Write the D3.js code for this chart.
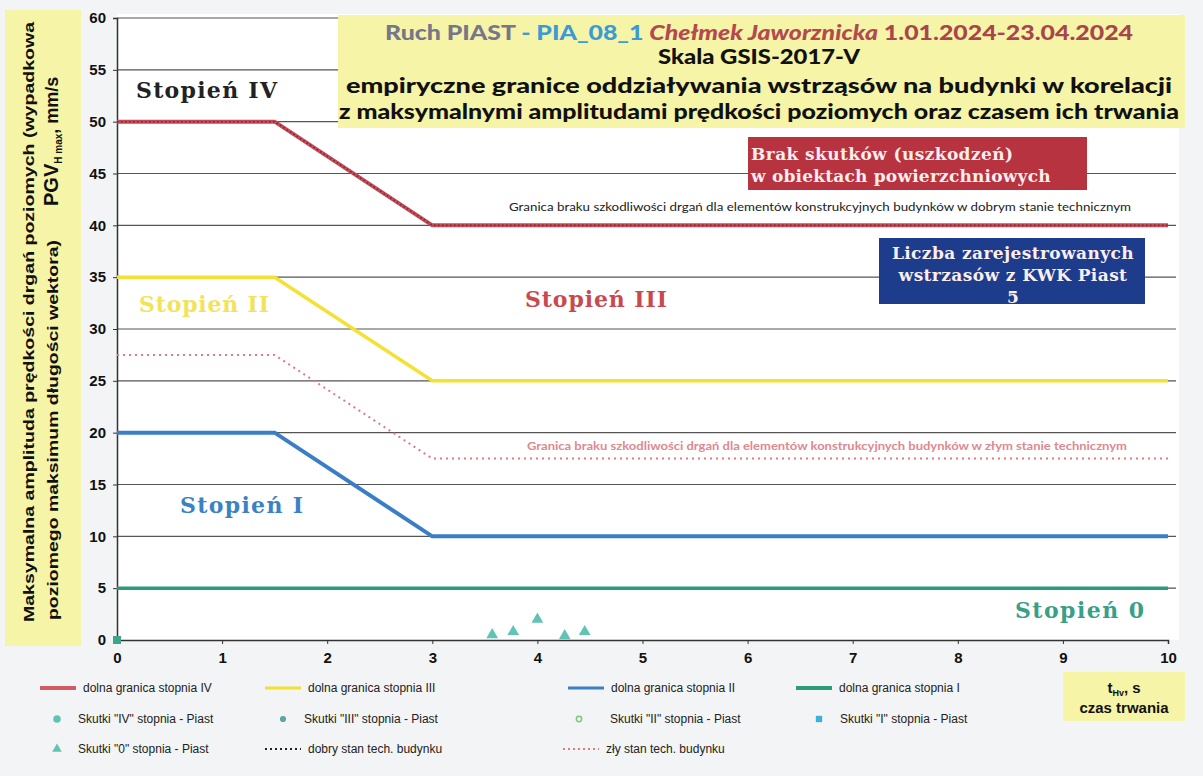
<!DOCTYPE html>
<html>
<head>
<meta charset="utf-8">
<script src="https://cdn.jsdelivr.net/npm/d3@7"></script>
<style>
  body { margin: 0; background: #f2f4f5; }
  svg { display: block; }
  .tick text { font-family: "Liberation Sans", Arial, sans-serif; font-weight: bold; font-size: 15px; fill: #111; }
  .leg { font-family: "Liberation Sans Narrow", "Liberation Sans", Arial, sans-serif; font-size: 12px; fill: #222; }
  .stage { font-family: "DejaVu Serif", serif; font-weight: bold; font-size: 22px; letter-spacing: 1px; }
  .ttl { font-family: Lato, "Open Sans", sans-serif; font-weight: 900; font-size: 21px; }
  .box { font-family: "DejaVu Serif", serif; font-weight: bold; font-size: 17px; fill: #fbeeee; letter-spacing: 0.4px; }
</style>
</head>
<body>
<svg id="canvas" width="1203" height="776"></svg>
<script>
// --- data ---
const durations = [0, 1.5, 3, 10];          // t, s (knots of the limit lines)
const limitIV   = [50, 50, 40, 40];
const limitIII  = [35, 35, 25, 25];
const limitII   = [20, 20, 10, 10];
const limitI    = [5, 5, 5, 5];
const goodState = [50, 50, 40, 40];
const poorState = [27.5, 27.5, 17.5, 17.5];

const zeroT = [3.57, 3.77, 4.0, 4.26, 4.45];  // "0" stage events
const zeroV = [0.5, 0.8, 2.0, 0.4, 0.8];
const firstT = [0];
const firstV = [0];

const xTicks = [0, 1, 2, 3, 4, 5, 6, 7, 8, 9, 10];
const yTicks = [0, 5, 10, 15, 20, 25, 30, 35, 40, 45, 50, 55, 60];

const svg = d3.select("#canvas");
const x = d3.scaleLinear().domain([0, 10]).range([117, 1168]);
const y = d3.scaleLinear().domain([0, 60]).range([640, 18]);

// plot background
svg.append("rect").attr("x", 117).attr("y", 14).attr("width", 1062).attr("height", 626).attr("fill", "#fff");

// grid
svg.append("g").selectAll("line").data(yTicks.filter(d => d > 0)).join("line")
  .attr("x1", x(0)).attr("x2", 1176)
  .attr("y1", d => y(d)).attr("y2", d => y(d))
  .attr("stroke", "#555").attr("stroke-width", 1.2);

// axes
const yAxis = svg.append("g").attr("transform", `translate(${x(0)},0)`)
  .call(d3.axisLeft(y).tickValues(yTicks).tickSize(4).tickPadding(7));
const xAxis = svg.append("g").attr("transform", `translate(0,${y(0)})`)
  .call(d3.axisBottom(x).tickValues(xTicks).tickSize(4).tickPadding(8));
[xAxis, yAxis].forEach(a => { a.select(".domain").attr("stroke", "#333").attr("stroke-width", 1.5); a.selectAll(".tick line").attr("stroke", "#333"); });

const line = d3.line().x((d, i) => x(durations[i])).y(d => y(d));

function drawLine(vals, color, width, dash) {
  svg.append("path").datum(vals).attr("d", line)
    .attr("fill", "none").attr("stroke", color).attr("stroke-width", width)
    .attr("stroke-dasharray", dash || null);
}
drawLine(limitI, "#2e9a7c", 3.5);
drawLine(limitII, "#3a7ec6", 4);
drawLine(limitIII, "#f3e233", 3.5);
drawLine(limitIV, "#c44a58", 4);
drawLine(goodState, "#6a2a33", 1.5, "1.5 2.5");
drawLine(poorState, "#e07a80", 2, "2 4");

// events
svg.append("g").selectAll("path").data(zeroT).join("path")
  .attr("transform", (d, i) => `translate(${x(d)},${y(zeroV[i])})`)
  .attr("d", d3.symbol(d3.symbolTriangle, 60))
  .attr("fill", "#5fc4b6");
svg.append("g").selectAll("rect").data(firstT).join("rect")
  .attr("x", (d) => x(d) - 4).attr("y", (d, i) => y(firstV[i]) - 4)
  .attr("width", 8).attr("height", 8).attr("fill", "#3ea58a");

// title box
svg.append("rect").attr("x", 338).attr("y", 15).attr("width", 847).attr("height", 113).attr("fill", "#f6f4a6");
const t1 = svg.append("text").attr("class", "ttl").attr("x", 759).attr("y", 40).attr("text-anchor", "middle")
  .attr("textLength", 748).attr("lengthAdjust", "spacingAndGlyphs");
t1.append("tspan").text("Ruch PIAST ").attr("fill", "#77768a");
t1.append("tspan").text("- ").attr("fill", "#3b9bd6");
t1.append("tspan").text("PIA_08_1 ").attr("fill", "#3b9bd6");
t1.append("tspan").text("Chełmek Jaworznicka").attr("fill", "#b44a50").attr("font-style", "italic");
t1.append("tspan").text("  1.01.2024-23.04.2024").attr("fill", "#a8464e");
const titleLines = ["Skala GSIS-2017-V",
  "empiryczne granice oddziaływania wstrząsów na budynki w korelacji",
  "z maksymalnymi amplitudami prędkości poziomych oraz czasem ich trwania"];
const titleY = [64, 93, 119];
const titleW = [202, 826, 840];
titleLines.forEach((s, i) => {
  svg.append("text").attr("class", "ttl").attr("x", 759).attr("y", titleY[i])
    .attr("text-anchor", "middle").attr("fill", "#111").text(s)
    .attr("textLength", titleW[i]).attr("lengthAdjust", "spacingAndGlyphs");
});

// y label box
svg.append("rect").attr("x", 5).attr("y", 10).attr("width", 76).attr("height", 636).attr("fill", "#f6f4a6");
const yl = svg.append("g").attr("transform", "rotate(-90)")
  .style("font-family", "'Liberation Sans', Arial, sans-serif").style("font-weight", "bold").attr("fill", "#111");
yl.append("text").attr("x", -622).attr("y", 34).attr("font-size", 15)
  .attr("textLength", 600).attr("lengthAdjust", "spacingAndGlyphs")
  .text("Maksymalna amplituda prędkości drgań poziomych (wypadkowa");
yl.append("text").attr("x", -620).attr("y", 58).attr("font-size", 15)
  .attr("textLength", 380).attr("lengthAdjust", "spacingAndGlyphs")
  .text("poziomego maksimum długości wektora)");
const pgv = yl.append("text").attr("x", -206).attr("y", 58).attr("font-size", 20);
pgv.append("tspan").text("PGV");
pgv.append("tspan").text("H max").attr("font-size", 10).attr("dy", 4);
pgv.append("tspan").text(", mm/s").attr("dy", -4).attr("font-size", 18);

// stage labels
const stages = [
  { t: "Stopień  IV", x: 136, y: 98, w: 142, c: "#222" },
  { t: "Stopień  II", x: 139, y: 312, w: 131, c: "#f2e35a" },
  { t: "Stopień  III", x: 525, y: 307, w: 143, c: "#c94a4e" },
  { t: "Stopień  I", x: 180, y: 513, w: 124, c: "#3a82c4" },
  { t: "Stopień  0", x: 1015, y: 618, w: 130, c: "#3a9f88" }
];
stages.forEach(s => svg.append("text").attr("class", "stage").attr("x", s.x).attr("y", s.y)
  .attr("textLength", s.w).attr("lengthAdjust", "spacing").attr("fill", s.c).text(s.t));

// annotation boxes
svg.append("rect").attr("x", 748).attr("y", 137).attr("width", 339).attr("height", 53).attr("fill", "#b83340");
svg.append("text").attr("class", "box").attr("x", 751).attr("y", 160).text("Brak skutków (uszkodzeń)");
svg.append("text").attr("class", "box").attr("x", 751).attr("y", 182)
  .attr("textLength", 300).attr("lengthAdjust", "spacing").text("w obiektach powierzchniowych");

svg.append("rect").attr("x", 879).attr("y", 238).attr("width", 266).attr("height", 66).attr("fill", "#1e3c8c");
const blue = ["Liczba zarejestrowanych", "wstrzasów z KWK Piast", "5"];
blue.forEach((s, i) => svg.append("text").attr("class", "box").attr("fill", "#fff")
  .attr("x", 1013).attr("y", 259 + i * 22).attr("text-anchor", "middle").text(s));

svg.append("text").attr("x", 820).attr("y", 211).attr("text-anchor", "middle")
  .style("font-family", "Lato, sans-serif").attr("font-size", 10.5).attr("fill", "#222")
  .attr("textLength", 622).attr("lengthAdjust", "spacingAndGlyphs")
  .text("Granica braku szkodliwości drgań dla elementów konstrukcyjnych budynków w dobrym stanie technicznym");
svg.append("text").attr("x", 827).attr("y", 450).attr("text-anchor", "middle")
  .style("font-family", "Lato, sans-serif").attr("font-size", 10.5).attr("fill", "#e08890").attr("font-weight", "bold")
  .attr("textLength", 600).attr("lengthAdjust", "spacingAndGlyphs")
  .text("Granica braku szkodliwości drgań dla elementów konstrukcyjnych budynków w złym stanie technicznym");

// legend
const legend = [
  { k: "line", c: "#d25a66", w: 4, x: 40, y: 688, t: "dolna granica stopnia  IV" },
  { k: "line", c: "#f3e233", w: 3, x: 265, y: 688, t: "dolna granica stopnia  III" },
  { k: "line", c: "#3a7ec6", w: 3, x: 568, y: 688, t: "dolna granica stopnia  II" },
  { k: "line", c: "#2e9a7c", w: 4, x: 796, y: 688, t: "dolna granica stopnia  I" },
  { k: "circle", c: "#5fc4b6", x: 57, y: 719, t: "Skutki \"IV\" stopnia - Piast" },
  { k: "diamond", c: "#5aa8a2", x: 283, y: 719, t: "Skutki \"III\" stopnia - Piast" },
  { k: "hollow", c: "#7cc77a", x: 579, y: 719, t: "Skutki \"II\" stopnia - Piast" },
  { k: "square", c: "#3ab2d8", x: 819, y: 719, t: "Skutki \"I\" stopnia - Piast" },
  { k: "tri", c: "#5fc4b6", x: 57, y: 749, t: "Skutki \"0\" stopnia - Piast" },
  { k: "dot", c: "#222", x: 265, y: 749, t: "dobry stan tech. budynku" },
  { k: "dot", c: "#e07a80", x: 563, y: 749, t: "zły stan tech. budynku" }
];
const lg = svg.append("g").selectAll("g").data(legend).join("g");
lg.each(function (d) {
  const g = d3.select(this);
  let tx;
  if (d.k === "line" || d.k === "dot") {
    g.append("line").attr("x1", d.x).attr("x2", d.x + 36).attr("y1", d.y).attr("y2", d.y)
      .attr("stroke", d.c).attr("stroke-width", d.k === "line" ? d.w : 2)
      .attr("stroke-dasharray", d.k === "dot" ? "2 3" : null);
    tx = d.x + 43;
  } else {
    const sym = { circle: d3.symbolCircle, diamond: d3.symbolCircle, hollow: d3.symbolCircle, square: d3.symbolSquare, tri: d3.symbolTriangle }[d.k];
    const size = { circle: 45, diamond: 30, hollow: 22, square: 40, tri: 40 }[d.k];
    g.append("path").attr("transform", `translate(${d.x},${d.y})`).attr("d", d3.symbol(sym, size))
      .attr("fill", d.k === "hollow" ? "none" : d.c).attr("stroke", d.k === "hollow" ? d.c : null).attr("stroke-width", 1.5);
    tx = d.x + (d.k === "hollow" ? 31 : 21);
  }
  g.append("text").attr("class", "leg").attr("x", tx).attr("y", d.y + 4).text(d.t);
});

// x label box
svg.append("rect").attr("x", 1063).attr("y", 672).attr("width", 122).attr("height", 49).attr("fill", "#f6f4a6");
const xl = svg.append("text").attr("x", 1124).attr("y", 693).attr("text-anchor", "middle")
  .style("font-family", "'Liberation Sans', Arial, sans-serif").style("font-weight", "bold").attr("font-size", 15).attr("fill", "#111");
xl.append("tspan").text("t");
xl.append("tspan").text("Hv").attr("font-size", 9).attr("dy", 3);
xl.append("tspan").text(", s").attr("dy", -3);
svg.append("text").attr("x", 1124).attr("y", 713).attr("text-anchor", "middle")
  .style("font-family", "'Liberation Sans', Arial, sans-serif").style("font-weight", "bold").attr("font-size", 15).attr("fill", "#111")
  .text("czas trwania");
</script>
</body>
</html>
